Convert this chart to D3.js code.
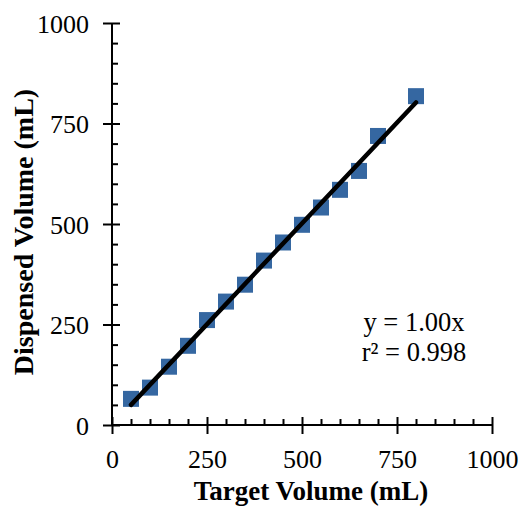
<!DOCTYPE html>
<html>
<head>
<meta charset="utf-8">
<script src="https://d3js.org/d3.v7.min.js"></script>
<style>
  body { margin: 0; background: #fff; }
  svg text { font-family: "Liberation Serif", "Times New Roman", serif; fill: #000; }
  .axis path, .axis line { stroke: #000; stroke-width: 2; fill: none; }
</style>
</head>
<body>
<svg width="521" height="506"></svg>
<script>
// target volume (mL) and measured dispensed volume (mL)
const targetVol = [50, 100, 150, 200, 250, 300, 350, 400, 450, 500, 550, 600, 650, 700, 800];
const dispensedVol = [65, 93, 145, 197, 261, 307, 349, 409, 454, 498, 541, 585, 632, 719, 818];
const majorTicks = [0, 250, 500, 750, 1000];
const minorTicks = d3.range(50, 1000, 50).filter(v => v % 250 !== 0);
const eqLines = ["y = 1.00x", "r\u00B2 = 0.998"];

const svg = d3.select("svg");
const x = d3.scaleLinear().domain([0, 1000]).range([112, 492]);
const y = d3.scaleLinear().domain([0, 1000]).range([425, 23]);

// minor ticks (inside only)
svg.append("g").attr("class", "axis")
    .attr("transform", "translate(0,425)")
    .call(d3.axisBottom(x).tickValues(minorTicks).tickSize(-6).tickFormat(""))
    .select(".domain").remove();
svg.append("g").attr("class", "axis")
    .attr("transform", "translate(112,0)")
    .call(d3.axisLeft(y).tickValues(minorTicks).tickSize(-6).tickFormat(""))
    .select(".domain").remove();

// major ticks cross the axis
const xAxis = svg.append("g").attr("class", "axis")
    .attr("transform", "translate(0,425)")
    .call(d3.axisBottom(x).tickValues(majorTicks).tickFormat(d3.format("d"))
        .tickSizeOuter(0).tickSizeInner(9).tickPadding(14));
xAxis.selectAll(".tick line").attr("y1", -8);
xAxis.selectAll("text").style("font-size", "26px").attr("dy", "0.75em");

const yAxis = svg.append("g").attr("class", "axis")
    .attr("transform", "translate(112,0)")
    .call(d3.axisLeft(y).tickValues(majorTicks).tickFormat(d3.format("d"))
        .tickSizeOuter(0).tickSizeInner(9).tickPadding(14));
yAxis.selectAll(".tick line").attr("x1", 8);
yAxis.selectAll("text").style("font-size", "26px").attr("dy", "0.35em");
xAxis.select(".domain").attr("d", "M112,0H492");
yAxis.select(".domain").attr("d", "M0,425V23");

// data squares
svg.selectAll(".pt")
    .data(targetVol)
    .enter().append("rect")
    .attr("class", "pt")
    .attr("x", (d) => x(d) - 8)
    .attr("y", (d, i) => y(dispensedVol[i]) - 8)
    .attr("width", 16)
    .attr("height", 16)
    .attr("fill", "#3567a1");

// trend line through origin, fitted to the data
const slope = d3.sum(targetVol, (d, i) => d * dispensedVol[i]) / d3.sum(targetVol, d => d * d);
const xr = d3.extent(targetVol);
svg.append("line")
    .attr("x1", x(xr[0])).attr("y1", y(slope * xr[0]))
    .attr("x2", x(xr[1])).attr("y2", y(slope * xr[1]))
    .attr("stroke", "#000").attr("stroke-width", 4.5).attr("stroke-linecap", "round");

// equation
svg.selectAll(".eq")
    .data(eqLines)
    .enter().append("text")
    .attr("class", "eq")
    .attr("x", 414)
    .attr("y", (d, i) => 331 + i * 30)
    .attr("text-anchor", "middle")
    .style("font-size", "26.5px")
    .text(d => d);

// axis titles
svg.append("text")
    .attr("x", 311).attr("y", 500)
    .attr("text-anchor", "middle")
    .style("font-size", "27px").style("font-weight", "bold")
    .text("Target Volume (mL)");
svg.append("text")
    .attr("transform", "translate(33,232) rotate(-90)")
    .attr("text-anchor", "middle")
    .style("font-size", "28px").style("font-weight", "bold")
    .text("Dispensed Volume (mL)");
</script>
</body>
</html>
